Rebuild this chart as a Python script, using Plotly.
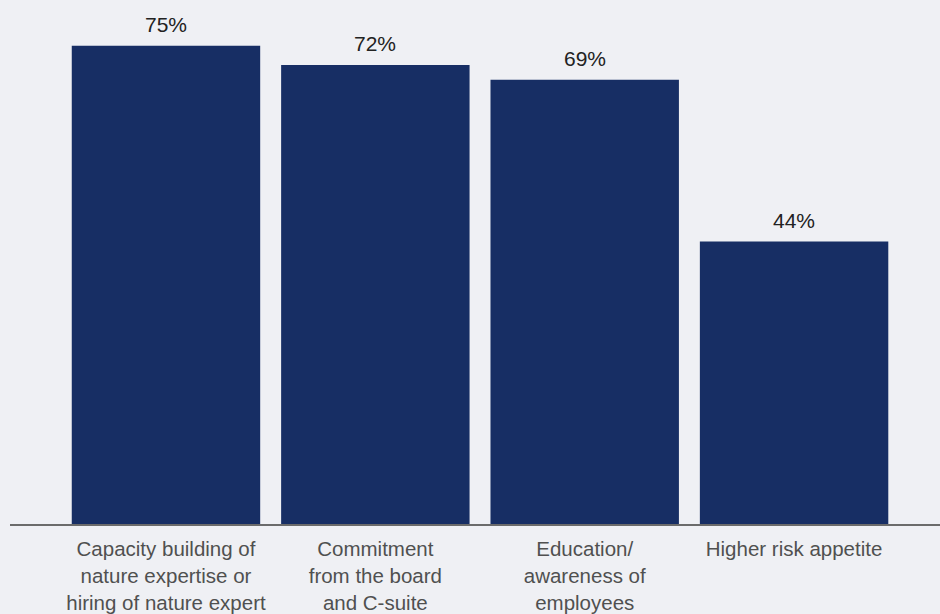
import plotly.graph_objects as go

categories = [
    "Capacity building of<br>nature expertise or<br>hiring of nature expert",
    "Commitment<br>from the board<br>and C-suite",
    "Education/<br>awareness of<br>employees",
    "Higher risk appetite",
]
values = [75, 72, 69.7, 44.3]
value_labels = ["75%", "72%", "69%", "44%"]

BG = "#eff0f4"
BAR = "#172e64"

x_idx = list(range(len(categories)))

fig = go.Figure()
fig.add_trace(go.Bar(
    x=x_idx, y=values, width=0.9,
    marker=dict(color=BAR, line=dict(width=0)),
    hoverinfo="skip",
))

for xi, v, lab in zip(x_idx, values, value_labels):
    fig.add_annotation(
        x=xi, y=v, xref="x", yref="y", text=lab, showarrow=False,
        yanchor="bottom", yshift=8,
        font=dict(family="Liberation Sans, Arial, sans-serif", size=21, color="#222222"),
    )

fig.update_layout(
    width=940, height=614,
    margin=dict(l=10, r=0, t=0, b=88),
    paper_bgcolor=BG, plot_bgcolor=BG,
    showlegend=False,
    bargap=0.1,
    xaxis=dict(
        range=[-0.745, 3.697],
        tickmode="array", tickvals=x_idx, ticktext=categories,
        showline=True, linecolor="#6b6b6b", linewidth=1.5,
        showgrid=False, zeroline=False, ticks="",
        ticklabelstandoff=6,
        tickfont=dict(family="Liberation Sans, Arial, sans-serif", size=20.5, color="#505050"),
    ),
    yaxis=dict(
        range=[0, 82.19], visible=False, showgrid=False, zeroline=False,
    ),
)

fig.write_html("out.html")
